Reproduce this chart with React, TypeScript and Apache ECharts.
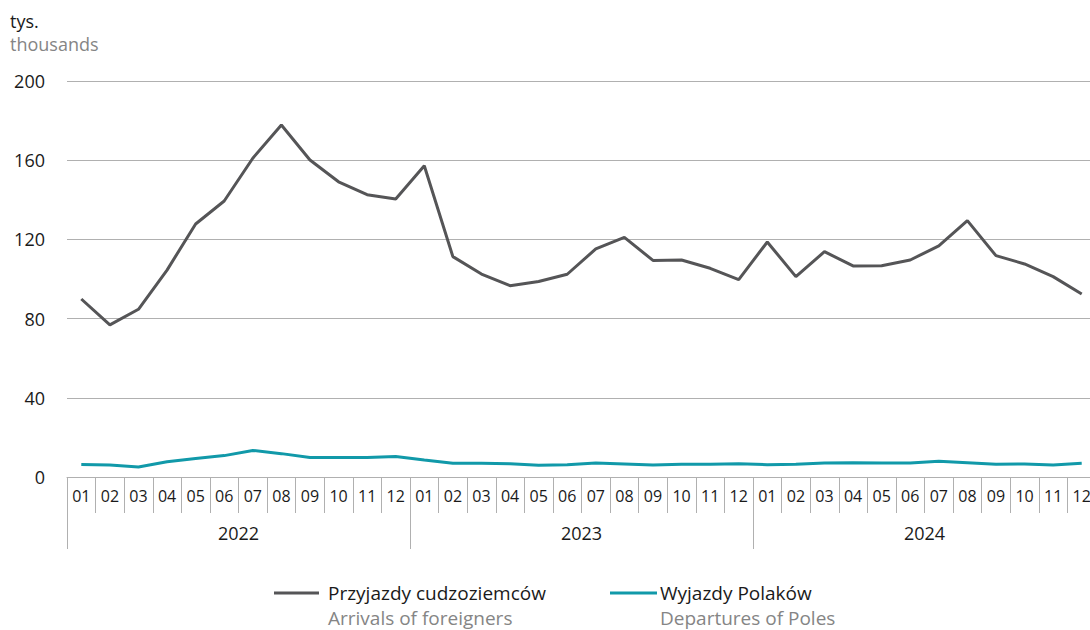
import React, { useEffect, useRef } from "react";
import * as echarts from "echarts";

const years = ["2022", "2023", "2024"];
const months = ["01", "02", "03", "04", "05", "06", "07", "08", "09", "10", "11", "12"];
const categories = years.flatMap((y) => months.map((m) => `${y}-${m}`));

const arrivals = [
  89.9, 76.8, 84.7, 104.5, 127.8, 139.4, 161.0, 177.8, 160.1, 149.1, 142.6, 140.4,
  157.2, 111.3, 102.5, 96.6, 98.7, 102.4, 115.2, 121.0, 109.4, 109.6, 105.4, 99.7,
  118.7, 101.2, 113.8, 106.6, 106.7, 109.6, 116.7, 129.5, 111.8, 107.6, 101.2, 92.4,
];
const departures = [
  6.3, 6.1, 5.1, 7.7, 9.4, 10.8, 13.4, 11.8, 9.9, 9.9, 9.8, 10.4,
  8.6, 6.9, 6.9, 6.7, 5.9, 6.2, 7.1, 6.6, 6.1, 6.4, 6.4, 6.7,
  6.2, 6.4, 7.1, 7.2, 7.1, 7.1, 7.9, 7.2, 6.4, 6.6, 6.1, 6.9,
];
const seriesNamesPl = ["Przyjazdy cudzoziemców", "Wyjazdy Polaków"];
const seriesNamesEn = ["Arrivals of foreigners", "Departures of Poles"];
const yTicks = { min: 0, max: 200, interval: 40 };

const FONT = "'Open Sans', 'Noto Sans', sans-serif";
const GRAY_LINE = "#555557";
const TEAL = "#1199a9";
const GRID = "#b0b0b0";

export default function App() {
  const ref = useRef<HTMLDivElement>(null);
  useEffect(() => {
    if (!ref.current) return;
    const chart = echarts.init(ref.current, undefined, { renderer: "svg" });
    const txt = (s: string, x: number, y: number, fill: string, size: number) => ({
      type: "text",
      x,
      y,
      style: {
        text: s,
        fill,
        fontSize: size,
        fontFamily: FONT,
        verticalAlign: "middle",
        lineHeight: 20,
      },
    });
    const legendItem = (i: number, x0: number, x1: number, tx: number, color: string) => [
      {
        type: "line",
        shape: { x1: x0, y1: 593, x2: x1, y2: 593 },
        style: { stroke: color, lineWidth: 3 },
      },
      txt(seriesNamesPl[i], tx, 593, "#1a1a1a", 19),
      txt(seriesNamesEn[i], tx, 618, "#858585", 19),
    ];
    chart.setOption({
      animation: false,
      textStyle: { fontFamily: FONT },
      grid: { left: 67, right: 4, top: 81, bottom: 153, containLabel: false },
      xAxis: [
        {
          type: "category",
          data: categories,
          boundaryGap: true,
          axisLine: { show: true, lineStyle: { color: GRID, width: 1 } },
          axisTick: { show: true, interval: 0, length: 36, lineStyle: { color: GRID } },
          axisLabel: {
            interval: 0,
            margin: 11,
            fontSize: 16,
            color: "#1a1a1a",
            formatter: (v: string) => v.slice(5),
          },
          splitLine: { show: false },
        },
        {
          type: "category",
          data: years,
          position: "bottom",
          boundaryGap: true,
          axisLine: { show: false },
          axisTick: { show: true, interval: 0, length: 72, lineStyle: { color: GRID } },
          axisLabel: { interval: 0, margin: 47, fontSize: 18, color: "#1a1a1a" },
          splitLine: { show: false },
        },
      ],
      yAxis: {
        type: "value",
        min: yTicks.min,
        max: yTicks.max,
        interval: yTicks.interval,
        axisLine: { show: false },
        axisTick: { show: false },
        axisLabel: { margin: 22, fontSize: 18, color: "#1a1a1a" },
        splitLine: { show: true, lineStyle: { color: GRID, width: 1 } },
      },
      series: [
        {
          name: seriesNamesPl[0],
          type: "line",
          data: arrivals,
          xAxisIndex: 0,
          showSymbol: false,
          symbol: "none",
          lineStyle: { color: GRAY_LINE, width: 3 },
          itemStyle: { color: GRAY_LINE },
        },
        {
          name: seriesNamesPl[1],
          type: "line",
          data: departures,
          xAxisIndex: 0,
          showSymbol: false,
          symbol: "none",
          lineStyle: { color: TEAL, width: 3 },
          itemStyle: { color: TEAL },
        },
      ],
      graphic: [
        txt("tys.", 10, 21, "#1a1a1a", 18),
        txt("thousands", 10, 44, "#858585", 18),
        ...legendItem(0, 274, 319, 328, GRAY_LINE),
        ...legendItem(1, 610, 657, 660, TEAL),
      ],
    });
    return () => chart.dispose();
  }, []);
  return (
    <div
      style={{ position: "fixed", left: 0, top: 0, width: 1090, height: 630, overflow: "hidden", background: "#fff" }}
    >
      <div ref={ref} style={{ width: 1100, height: 630 }} />
    </div>
  );
}
